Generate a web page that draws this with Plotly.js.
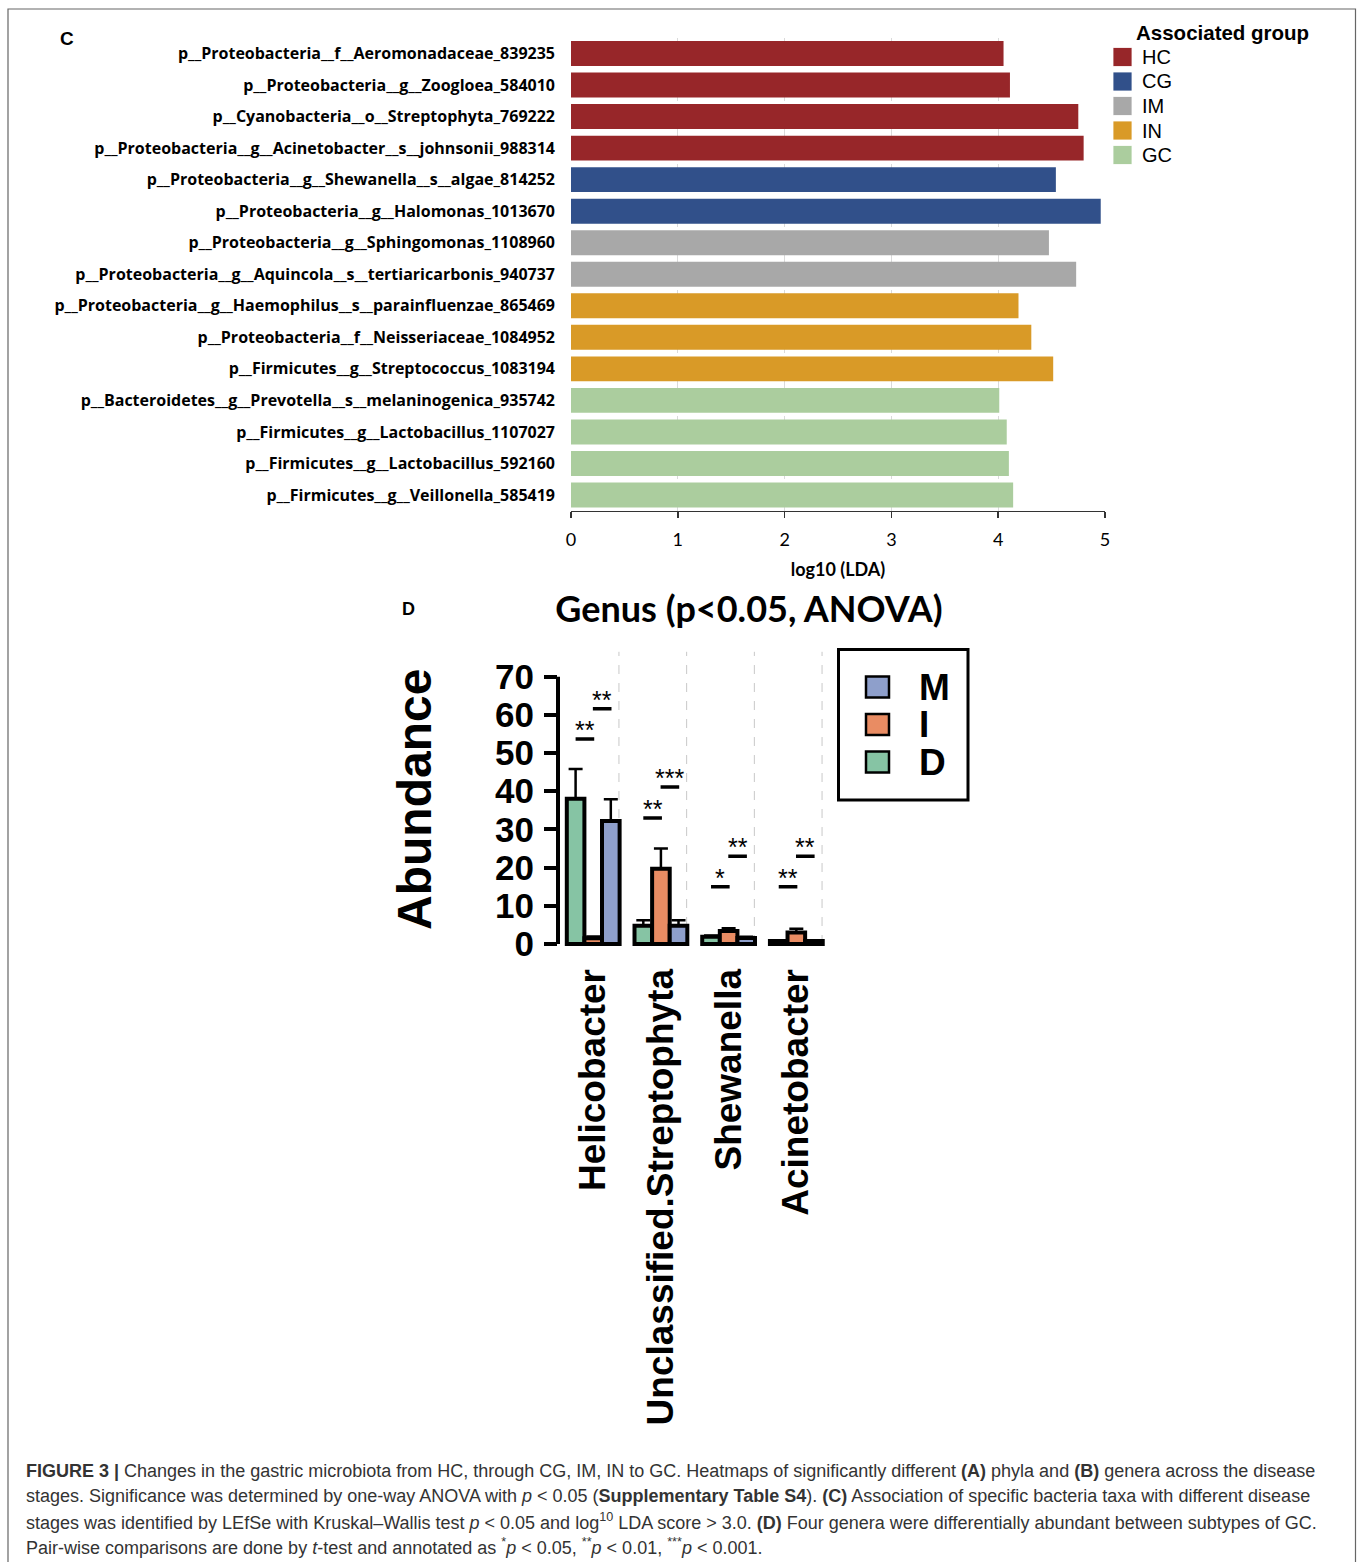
<!DOCTYPE html>
<html>
<head>
<meta charset="utf-8">
<script src="https://cdn.plot.ly/plotly-3.0.1.min.js"></script>
<style>html,body{margin:0;padding:0;background:#fff}</style>
</head>
<body>
<div id="fig" style="width:1357px;height:1562px"></div>
<script>
// ---- Panel C: LEfSe taxa and their LDA scores ----
const taxa = [
  'p__Proteobacteria__f__Aeromonadaceae_839235',
  'p__Proteobacteria__g__Zoogloea_584010',
  'p__Cyanobacteria__o__Streptophyta_769222',
  'p__Proteobacteria__g__Acinetobacter__s__johnsonii_988314',
  'p__Proteobacteria__g__Shewanella__s__algae_814252',
  'p__Proteobacteria__g__Halomonas_1013670',
  'p__Proteobacteria__g__Sphingomonas_1108960',
  'p__Proteobacteria__g__Aquincola__s__tertiaricarbonis_940737',
  'p__Proteobacteria__g__Haemophilus__s__parainfluenzae_865469',
  'p__Proteobacteria__f__Neisseriaceae_1084952',
  'p__Firmicutes__g__Streptococcus_1083194',
  'p__Bacteroidetes__g__Prevotella__s__melaninogenica_935742',
  'p__Firmicutes__g__Lactobacillus_1107027',
  'p__Firmicutes__g__Lactobacillus_592160',
  'p__Firmicutes__g__Veillonella_585419'
];
const ldaScore = [4.05, 4.11, 4.75, 4.80, 4.54, 4.96, 4.475, 4.73, 4.19, 4.31, 4.515, 4.01, 4.08, 4.10, 4.14];
const taxonGroup = ['HC','HC','HC','HC','CG','CG','IM','IM','IN','IN','IN','GC','GC','GC','GC'];
const groupNames = ['HC','CG','IM','IN','GC'];
const groupColors = ['#972629','#31508a','#a8a8a8','#d99a27','#abcd9e'];

// ---- Panel D: genus abundance by GC subtype ----
const genera = ['Helicobacter','Unclassified.Streptophyta','Shewanella','Acinetobacter'];
const subtypes = ['D','I','M'];
const subtypeColors = ['#86c4a4','#e98c63','#8e9fcb'];
const abundD = [38.0, 4.8, 1.9, 0.8];
const abundI = [1.5, 19.7, 3.4, 3.0];
const abundM = [32.2, 4.8, 1.6, 0.8];
const errD = [7.8, 1.4, 0.3, 0.2];
const errI = [0.5, 5.3, 0.7, 1.0];
const errM = [5.7, 1.4, 0.3, 0.2];
// pair-wise t-test marks: D vs I, I vs M
const sigDI_y = [53.7, 33.0, 15.0, 15.0];
const sigDI_lab = ['**','**','*','**'];
const sigIM_y = [61.6, 41.1, 23.0, 23.0];
const sigIM_lab = ['**','***','**','**'];

// ---- helpers: pixel -> paper fraction ----
const W = 1357, H = 1562;
const px = v => v / W;
const py = v => 1 - v / H;

const ARIAL = 'Liberation Sans, Arial, sans-serif';
const CAL = 'Lato, Liberation Sans, sans-serif';
const LBL = 'Open Sans, Lato, sans-serif';

const colorOf = g => groupColors[groupNames.indexOf(g)];

const traces = [];
traces.push({
  type: 'bar', orientation: 'h',
  y: taxa, x: ldaScore, width: 0.79,
  marker: { color: taxonGroup.map(colorOf), line: { width: 0 } },
  xaxis: 'x', yaxis: 'y', hoverinfo: 'x+y'
});

const abund = [abundD, abundI, abundM];
const errs = [errD, errI, errM];
subtypes.forEach((s, k) => {
  traces.push({
    type: 'bar', name: s, x: genera, y: abund[k],
    xaxis: 'x2', yaxis: 'y2',
    marker: { color: subtypeColors[k], line: { color: '#000', width: 4 } },
    error_y: { type: 'data', symmetric: false, array: errs[k], arrayminus: errs[k].map(() => 0),
               color: '#000', thickness: 2.5, width: 7 }
  });
});

const shapes = [];
const annotations = [];

// figure frame
shapes.push({ type: 'rect', xref: 'paper', yref: 'paper', x0: px(8), x1: px(1355.5), y0: py(1575), y1: py(9),
  line: { color: '#666', width: 1.2 } });

// legend for panel C
annotations.push({ xref: 'paper', yref: 'paper', x: px(1134), y: py(33), xanchor: 'left', yanchor: 'middle',
  text: '<b>Associated group</b>', showarrow: false, font: { family: ARIAL, size: 20.5, color: '#000' } });
groupNames.forEach((g, i) => {
  const yc = 57 + i * 24.5;
  shapes.push({ type: 'rect', xref: 'paper', yref: 'paper', x0: px(1113), x1: px(1132), y0: py(yc + 9.5), y1: py(yc - 9.5),
    fillcolor: groupColors[i], line: { color: '#ffffff', width: 0.8 } });
  annotations.push({ xref: 'paper', yref: 'paper', x: px(1140), y: py(yc), xanchor: 'left', yanchor: 'middle',
    text: g, showarrow: false, font: { family: ARIAL, size: 20, color: '#000' } });
});

// panel letters
annotations.push({ xref: 'paper', yref: 'paper', x: px(67), y: py(39), xanchor: 'center', yanchor: 'middle',
  text: '<b>C</b>', showarrow: false, font: { family: ARIAL, size: 19, color: '#000' } });
annotations.push({ xref: 'paper', yref: 'paper', x: px(408), y: py(609), xanchor: 'center', yanchor: 'middle',
  text: '<b>D</b>', showarrow: false, font: { family: ARIAL, size: 18, color: '#000' } });

// panel D: y axis line (0 to 70)
shapes.push({ type: 'line', xref: 'x2 domain', yref: 'y2', x0: 0, x1: 0, y0: 0, y1: 70,
  line: { color: '#000', width: 4 } });

// panel D: dashed separators to the right of each genus
genera.forEach((g, i) => {
  shapes.push({ type: 'line', xref: 'x2', yref: 'y2', x0: i + 0.38, x1: i + 0.38, y0: 0, y1: 76.5,
    layer: 'below', line: { color: '#c8c8c8', width: 1, dash: 'dash' } });
});

// panel D: significance bars and stars
genera.forEach((g, i) => {
  const pairs = [
    { y: sigDI_y[i], lab: sigDI_lab[i], a: i - 0.26, b: i + 0.015 },
    { y: sigIM_y[i], lab: sigIM_lab[i], a: i - 0.005, b: i + 0.27 }
  ];
  pairs.forEach(p => {
    shapes.push({ type: 'line', xref: 'x2', yref: 'y2', x0: p.a, x1: p.b, y0: p.y, y1: p.y,
      line: { color: '#000', width: 3.5 } });
    annotations.push({ xref: 'x2', yref: 'y2', x: (p.a + p.b) / 2, y: p.y, xanchor: 'center', yanchor: 'middle',
      yshift: 9, text: p.lab, showarrow: false, font: { family: ARIAL, size: 25, color: '#000' } });
  });
});

// panel D legend
shapes.push({ type: 'rect', xref: 'paper', yref: 'paper', x0: px(838.5), x1: px(968), y0: py(800), y1: py(649.5),
  line: { color: '#000', width: 3 } });
const legOrder = [2, 1, 0];
legOrder.forEach((k, r) => {
  const yc = 687 + r * 37.5;
  shapes.push({ type: 'rect', xref: 'paper', yref: 'paper', x0: px(866), x1: px(889), y0: py(yc + 10.5), y1: py(yc - 10.5),
    fillcolor: subtypeColors[k], line: { color: '#000', width: 2.5 } });
  annotations.push({ xref: 'paper', yref: 'paper', x: px(917), y: py(yc), xanchor: 'left', yanchor: 'middle',
    text: '<b>' + subtypes[k] + '</b>', showarrow: false, font: { family: ARIAL, size: 37, color: '#000' } });
});

// caption
const captionLines = [
  '<b>FIGURE 3 |</b> Changes in the gastric microbiota from HC, through CG, IM, IN to GC. Heatmaps of significantly different <b>(A)</b> phyla and <b>(B)</b> genera across the disease',
  'stages. Significance was determined by one-way ANOVA with <i>p</i> &lt; 0.05 (<b>Supplementary Table S4</b>). <b>(C)</b> Association of specific bacteria taxa with different disease',
  'stages was identified by LEfSe with Kruskal\u2013Wallis test <i>p</i> &lt; 0.05 and log<sup>10</sup> LDA score &gt; 3.0. <b>(D)</b> Four genera were differentially abundant between subtypes of GC.',
  'Pair-wise comparisons are done by <i>t</i>-test and annotated as <sup>*</sup><i>p</i> &lt; 0.05, <sup>**</sup><i>p</i> &lt; 0.01, <sup>***</sup><i>p</i> &lt; 0.001.'
];
captionLines.forEach((t, i) => {
  annotations.push({ xref: 'paper', yref: 'paper', x: px(24), y: py(1471 + i * 25), xanchor: 'left', yanchor: 'middle',
    text: t, showarrow: false, align: 'left', font: { family: ARIAL, size: 18, color: '#333' } });
});

const layout = {
  width: W, height: H,
  margin: { l: 0, r: 0, t: 0, b: 0 },
  paper_bgcolor: '#fff', plot_bgcolor: 'rgba(0,0,0,0)',
  showlegend: false,
  barmode: 'group', bargap: 0.22, bargroupgap: 0,
  title: { text: '<b>Genus (p&lt;0.05, ANOVA)</b>', x: px(749), xanchor: 'center', xref: 'paper',
           y: py(609), yanchor: 'middle', yref: 'paper', font: { family: CAL, size: 36, color: '#000' } },
  xaxis: {
    domain: [px(571), px(1105)], anchor: 'y', range: [0, 5], dtick: 1,
    showgrid: true, gridcolor: '#dadada', griddash: 'dash', gridwidth: 1, zeroline: false,
    showline: true, linecolor: '#333', linewidth: 1.5,
    ticks: 'outside', ticklen: 6, tickcolor: '#333', tickwidth: 1.5, ticklabelstandoff: 6,
    tickfont: { family: CAL, size: 18, color: '#000' },
    title: { text: '<b>log10 (LDA)</b>', font: { family: CAL, size: 18, color: '#000' }, standoff: 14 }
  },
  yaxis: {
    domain: [py(510.8), py(37.7)], anchor: 'x', type: 'category', autorange: 'reversed',
    showgrid: false, zeroline: false, showline: false, ticks: '',
    ticklabelstandoff: 15,
    tickfont: { family: LBL, size: 16, color: '#000', weight: 'bold' }
  },
  xaxis2: {
    domain: [px(558), px(826.8)], anchor: 'y2', type: 'category', range: [-0.52, 3.45],
    showgrid: false, zeroline: false, showline: false, ticks: '',
    tickangle: -90, ticklabelstandoff: 12,
    tickfont: { family: ARIAL, size: 37, color: '#000', weight: 'bold' }
  },
  yaxis2: {
    domain: [py(948.6), py(649.9)], anchor: 'x2', range: [-1.2, 77],
    tickvals: [0, 10, 20, 30, 40, 50, 60, 70],
    showgrid: false, zeroline: false, showline: false,
    ticks: 'outside', ticklen: 13, tickwidth: 4, tickcolor: '#000', ticklabelstandoff: 3,
    tickfont: { family: ARIAL, size: 35, color: '#000', weight: 'bold' },
    title: { text: '<b>Abundance</b>', font: { family: ARIAL, size: 48, color: '#000' }, standoff: 48 }
  },
  shapes: shapes,
  annotations: annotations
};

Plotly.newPlot('fig', traces, layout, { displayModeBar: false, staticPlot: true });
</script>
</body>
</html>
